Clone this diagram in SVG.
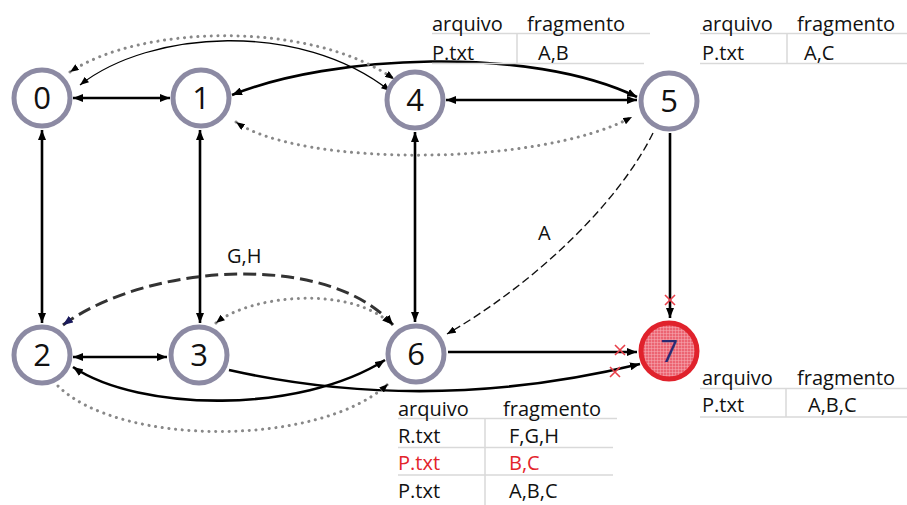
<svg xmlns="http://www.w3.org/2000/svg" width="907" height="505" viewBox="0 0 907 505">
<style>
text{font-family:"Open Sans","Liberation Sans",sans-serif;fill:#111}
.tb{font-size:20px}
.red{fill:#e3242b}
.lbl{font-size:20px}
.num{font-size:31px;font-weight:500;text-anchor:middle}
.node{fill:#fff;stroke:#8c8aa3;stroke-width:5}
.thick{fill:none;stroke:#000;stroke-width:2.6}
.thin{fill:none;stroke:#000;stroke-width:1.3}
.dot{fill:none;stroke:#888;stroke-width:3;stroke-dasharray:0.1 6.6;stroke-linecap:round}
.dashA{fill:none;stroke:#111;stroke-width:1.4;stroke-dasharray:8 4}
.dashGH{fill:none;stroke:#333;stroke-width:3;stroke-dasharray:13 6}
.grid{stroke:#d9d9d9;stroke-width:1.5}
.x{stroke:#e8404a;stroke-width:1.6}
</style>
<defs>
<marker id="ah" viewBox="0 0 10 8" refX="10" refY="4" markerWidth="10" markerHeight="8" markerUnits="userSpaceOnUse" orient="auto-start-reverse"><path d="M0,0L10,4L0,8z" fill="#000" stroke="none"/></marker>
<marker id="ahs" viewBox="0 0 10 8" refX="10" refY="4" markerWidth="9" markerHeight="7" markerUnits="userSpaceOnUse" orient="auto-start-reverse"><path d="M0,0L10,4L0,8z" fill="#000" stroke="none"/></marker>
<marker id="ahn" viewBox="0 0 10 8" refX="10" refY="4" markerWidth="10" markerHeight="8" markerUnits="userSpaceOnUse" orient="auto-start-reverse"><path d="M0,0L10,4L0,8z" fill="#1a1a5c" stroke="none"/></marker>
<pattern id="pk" width="3" height="3" patternUnits="userSpaceOnUse"><rect width="3" height="3" fill="#ec6472"/><path d="M0,0.3H3M0.3,0V3" stroke="#f7b0b8" stroke-width="0.6"/></pattern>
</defs>

<g id="connectors">
<path class="thick" d="M73,98L170,98" marker-start="url(#ah)" marker-end="url(#ah)"/>
<path class="thick" d="M446,100L637,100" marker-start="url(#ah)" marker-end="url(#ah)"/>
<path class="thick" d="M42,130L42,323" marker-start="url(#ah)" marker-end="url(#ah)"/>
<path class="thick" d="M200,130L200,323" marker-start="url(#ah)" marker-end="url(#ah)"/>
<path class="thick" d="M415,132L415,322" marker-start="url(#ah)" marker-end="url(#ah)"/>
<path class="thick" d="M73,357L167,357" marker-start="url(#ah)" marker-end="url(#ah)"/>
<path class="thick" d="M670,133L670,318" marker-end="url(#ah)"/>
<path class="thick" d="M448,352L637,352" marker-end="url(#ah)"/>
<path class="thick" d="M229,370Q430,415 640,364" marker-end="url(#ah)"/>
<path class="thick" d="M73,367C140,412 300,414 385,360" marker-start="url(#ah)" marker-end="url(#ah)"/>
<path class="thick" d="M232,95C330,55 530,45 637,97" marker-start="url(#ah)" marker-end="url(#ah)"/>
<path class="thin" d="M80,85C150,30 300,20 390,91" marker-start="url(#ahs)" marker-end="url(#ahs)"/>
<path class="dot" d="M70,72C140,25 310,20 394,79" marker-start="url(#ahs)" marker-end="url(#ahs)"/>
<path class="dot" d="M236,122C300,167 540,167 632,117" marker-start="url(#ahs)" marker-end="url(#ahs)"/>
<path class="dot" d="M58,386C120,447 320,447 388,384" marker-end="url(#ahs)"/>
<path class="dot" d="M216,323C250,295 350,285 391,324" marker-start="url(#ahs)" marker-end="url(#ahs)"/>
<path class="dashA" d="M653,133C620,200 540,280 447,334" marker-end="url(#ahs)"/>
<path class="dashGH" d="M63,325C150,262 330,252 393,325" marker-start="url(#ahn)" marker-end="url(#ah)"/>
<g class="x">
<path d="M665,295L675,305M675,295L665,305"/>
<path d="M615,345L625,355M625,345L615,355"/>
<path d="M610,367L620,377M620,367L610,377"/>
</g>
</g>

<g id="n0"><circle class="node" cx="42" cy="98" r="28"/><text class="num" x="42" y="109">0</text></g>
<g id="n1"><circle class="node" cx="201" cy="98" r="28"/><text class="num" x="201" y="109">1</text></g>
<g id="n4"><circle class="node" cx="415" cy="100" r="28"/><text class="num" x="415" y="111">4</text></g>
<g id="n5"><circle class="node" cx="669" cy="101" r="28"/><text class="num" x="669" y="112">5</text></g>
<g id="n2"><circle class="node" cx="42" cy="355" r="28"/><text class="num" x="42" y="366">2</text></g>
<g id="n3"><circle class="node" cx="199" cy="355" r="28"/><text class="num" x="199" y="366">3</text></g>
<g id="n6"><circle class="node" cx="416" cy="354" r="28"/><text class="num" x="416" y="365">6</text></g>
<g id="n7"><circle cx="669" cy="351" r="28" fill="url(#pk)" stroke="#e0222c" stroke-width="5"/><text class="num" x="669" y="362" style="fill:#2a2a72">7</text></g>

<g id="labels">
<text class="lbl" x="227" y="263">G,H</text>
<text class="lbl" x="538" y="240">A</text>
</g>

<g id="table4">
<line class="grid" x1="432" y1="33.5" x2="650" y2="33.5"/>
<line class="grid" x1="432" y1="63.5" x2="644" y2="63.5"/>
<line class="grid" x1="517" y1="33.5" x2="517" y2="63.5"/>
<text class="tb" x="432" y="31">arquivo</text><text class="tb" x="527" y="31">fragmento</text>
<text class="tb" x="432" y="60">P.txt</text><text class="tb" x="538" y="60">A,B</text>
</g>
<g id="table5">
<line class="grid" x1="700" y1="33.5" x2="907" y2="33.5"/>
<line class="grid" x1="700" y1="63.5" x2="907" y2="63.5"/>
<line class="grid" x1="787" y1="33.5" x2="787" y2="63.5"/>
<text class="tb" x="702" y="31">arquivo</text><text class="tb" x="797" y="31">fragmento</text>
<text class="tb" x="702" y="60">P.txt</text><text class="tb" x="804" y="60">A,C</text>
</g>
<g id="table7">
<line class="grid" x1="700" y1="388.5" x2="907" y2="388.5"/>
<line class="grid" x1="700" y1="417" x2="907" y2="417"/>
<line class="grid" x1="786" y1="388.5" x2="786" y2="417"/>
<text class="tb" x="702" y="385">arquivo</text><text class="tb" x="797" y="385">fragmento</text>
<text class="tb" x="702" y="412">P.txt</text><text class="tb" x="808" y="412">A,B,C</text>
</g>
<g id="table6">
<line class="grid" x1="398" y1="418.5" x2="617" y2="418.5"/>
<line class="grid" x1="398" y1="447.5" x2="613" y2="447.5"/>
<line class="grid" x1="398" y1="475" x2="613" y2="475"/>
<line class="grid" x1="485" y1="418.5" x2="485" y2="505"/>
<text class="tb" x="398" y="416">arquivo</text><text class="tb" x="503" y="416">fragmento</text>
<text class="tb" x="398" y="443">R.txt</text><text class="tb" x="509" y="443">F,G,H</text>
<text class="tb red" x="398" y="470">P.txt</text><text class="tb red" x="509" y="470">B,C</text>
<text class="tb" x="398" y="498">P.txt</text><text class="tb" x="509" y="498">A,B,C</text>
</g>
</svg>
